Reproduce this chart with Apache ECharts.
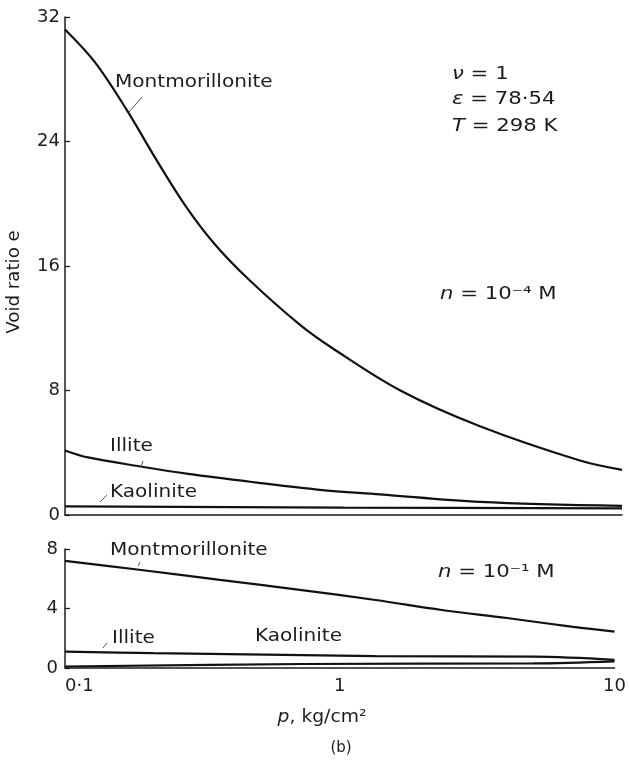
<!DOCTYPE html>
<html>
<head>
<meta charset="utf-8">
<script src="https://cdn.jsdelivr.net/npm/echarts@6/dist/echarts.min.js"></script>
<style>
html,body{margin:0;padding:0;background:#fff;}
#chart{width:629px;height:761px;}
</style>
</head>
<body>
<div id="chart"></div>
<script>
// ---- data ----
// Upper panel, n = 1e-4 M
const pTopMont   = [0.1, 0.128, 0.167, 0.21, 0.27, 0.345, 0.459, 0.70, 0.916, 1.60, 3.09, 7.06, 10];
const eTopMont   = [31.2, 29.1, 26.0, 23.0, 19.9, 17.4, 15.1, 12.2, 10.7, 8.0, 5.7, 3.5, 2.9];
const pTopIllite = [0.1, 0.121, 0.189, 0.277, 0.48, 0.823, 1.35, 3.09, 10];
const eTopIllite = [4.15, 3.7, 3.1, 2.64, 2.1, 1.62, 1.33, 0.84, 0.58];
const pTopKao    = [0.1, 1, 10];
const eTopKao    = [0.55, 0.48, 0.42];
// Lower panel, n = 1e-1 M
const pBotMont   = [0.1, 0.183, 0.366, 0.727, 1.35, 2.35, 4.06, 7.07, 10];
const eBotMont   = [7.2, 6.62, 5.92, 5.24, 4.57, 3.9, 3.36, 2.76, 2.45];
const pBotIllite = [0.1, 0.21, 0.73, 1.35, 5.08, 10];
const eBotIllite = [1.1, 1.0, 0.87, 0.8, 0.76, 0.55];
const pBotKao    = [0.1, 0.73, 5.08, 10];
const eBotKao    = [0.1, 0.27, 0.31, 0.45];
// tick labels
const xTickValues = [0.1, 1, 10];
const xTickLabels = ['0·1', '1', '10'];
const yTopTicks = [0, 8, 16, 24, 32];
const yBotTicks = [0, 4, 8];

const zip = (xs, ys) => xs.map((x, i) => [x, ys[i]]);
const FONT = '"DejaVu Sans", "Liberation Sans", sans-serif';
const INK = '#1c1c1c';

function xLabel(v) {
  for (let i = 0; i < xTickValues.length; i++) {
    if (Math.abs(Math.log10(v) - Math.log10(xTickValues[i])) < 1e-6) return xTickLabels[i];
  }
  return '';
}

const lineSeries = (name, xi, data, w) => ({
  name, type: 'line', xAxisIndex: xi, yAxisIndex: xi,
  data, showSymbol: false, smooth: 0.35,
  lineStyle: { color: '#111', width: w || 2.2 }, z: 3
});

function txt(x, y, text, opts) {
  opts = opts || {};
  return {
    type: 'text', x, y,
    scaleX: opts.scaleX || 1.18,
    rotation: opts.rotation || 0,
    style: {
      text, font: (opts.size || 17) + 'px ' + FONT, fill: opts.fill || INK,
      textAlign: opts.align || 'left', align: opts.align || 'left',
      textVerticalAlign: 'middle', verticalAlign: 'middle',
      rich: opts.rich
    }, z: 10
  };
}
function lead(x1, y1, x2, y2) {
  return { type: 'line', shape: { x1, y1, x2, y2 }, style: { stroke: '#555', lineWidth: 1 }, z: 10 };
}

const richEq = (size) => ({
  i: { fontStyle: 'italic', fontSize: size, fontFamily: FONT, fill: INK },
  a: { fontSize: size, fontFamily: FONT, fill: INK }
});

const chart = echarts.init(document.getElementById('chart'), null, { renderer: 'canvas' });
const axisCommon = {
  axisLine: { show: true, lineStyle: { color: INK, width: 1.5 } },
  splitLine: { show: false }
};
chart.setOption({
  animation: false,
  backgroundColor: '#fff',
  grid: [
    { left: 65, right: 7, top: 17, height: 498 },
    { left: 65, right: 7, top: 549, height: 119 }
  ],
  xAxis: [
    Object.assign({ type: 'log', logBase: 10, min: 0.1, max: 10, gridIndex: 0,
      axisTick: { show: false }, minorTick: { show: false }, axisLabel: { show: false } }, axisCommon),
    Object.assign({ type: 'log', logBase: 10, min: 0.1, max: 10, gridIndex: 1,
      axisTick: { show: false }, minorTick: { show: false },
      axisLabel: { show: true, formatter: xLabel, margin: 9, color: INK, fontSize: 18, fontFamily: FONT,
        alignMinLabel: 'left' } }, axisCommon)
  ],
  yAxis: [
    Object.assign({ type: 'value', min: yTopTicks[0], max: yTopTicks[yTopTicks.length - 1], interval: 8, gridIndex: 0,
      axisTick: { show: true, inside: true, length: 5, lineStyle: { color: INK, width: 1.3 } },
      axisLabel: { margin: 5, color: INK, fontSize: 18, fontFamily: FONT } }, axisCommon),
    Object.assign({ type: 'value', min: yBotTicks[0], max: yBotTicks[yBotTicks.length - 1], interval: 4, gridIndex: 1,
      axisTick: { show: true, inside: true, length: 5, lineStyle: { color: INK, width: 1.3 } },
      axisLabel: { margin: 7, color: INK, fontSize: 18, fontFamily: FONT } }, axisCommon)
  ],
  series: [
    lineSeries('Montmorillonite (10⁻⁴ M)', 0, zip(pTopMont, eTopMont)),
    lineSeries('Illite (10⁻⁴ M)', 0, zip(pTopIllite, eTopIllite)),
    lineSeries('Kaolinite (10⁻⁴ M)', 0, zip(pTopKao, eTopKao)),
    lineSeries('Montmorillonite (10⁻¹ M)', 1, zip(pBotMont, eBotMont)),
    lineSeries('Illite (10⁻¹ M)', 1, zip(pBotIllite, eBotIllite)),
    lineSeries('Kaolinite (10⁻¹ M)', 1, zip(pBotKao, eBotKao))
  ],
  graphic: [
    // series labels, upper panel
    txt(115, 83, 'Montmorillonite'), lead(142, 97, 129, 112),
    txt(110, 447, 'Illite'), lead(143, 461, 141, 467),
    txt(110, 493, 'Kaolinite'), lead(100, 502, 107, 495),
    // series labels, lower panel
    txt(110, 551, 'Montmorillonite'), lead(140, 562, 138, 566),
    txt(112, 639, 'Illite'), lead(103, 648, 107, 643),
    txt(255, 637, 'Kaolinite'),
    // parameters
    txt(452, 75, '{i|ν}{a| = 1}', { rich: richEq(17), scaleX: 1.25 }),
    txt(452, 100, '{i|ε}{a| = 78·54}', { rich: richEq(17), scaleX: 1.25 }),
    txt(452, 127, '{i|T}{a| = 298 K}', { rich: richEq(17), scaleX: 1.25 }),
    txt(440, 295, '{i|n}{a| = 10⁻⁴ M}', { rich: richEq(17), scaleX: 1.25 }),
    txt(438, 573, '{i|n}{a| = 10⁻¹ M}', { rich: richEq(17), scaleX: 1.25 }),
    // axis titles
    txt(15, 282, 'Void ratio e', { rotation: Math.PI / 2, align: 'center', size: 17, scaleX: 1.07 }),
    txt(322, 718, '{i|p}{a|, kg/cm²}', { rich: richEq(17), align: 'center', scaleX: 1.1 }),
    txt(341, 748, '(b)', { size: 15, align: 'center', scaleX: 1.0 })
  ]
});
</script>
</body>
</html>
